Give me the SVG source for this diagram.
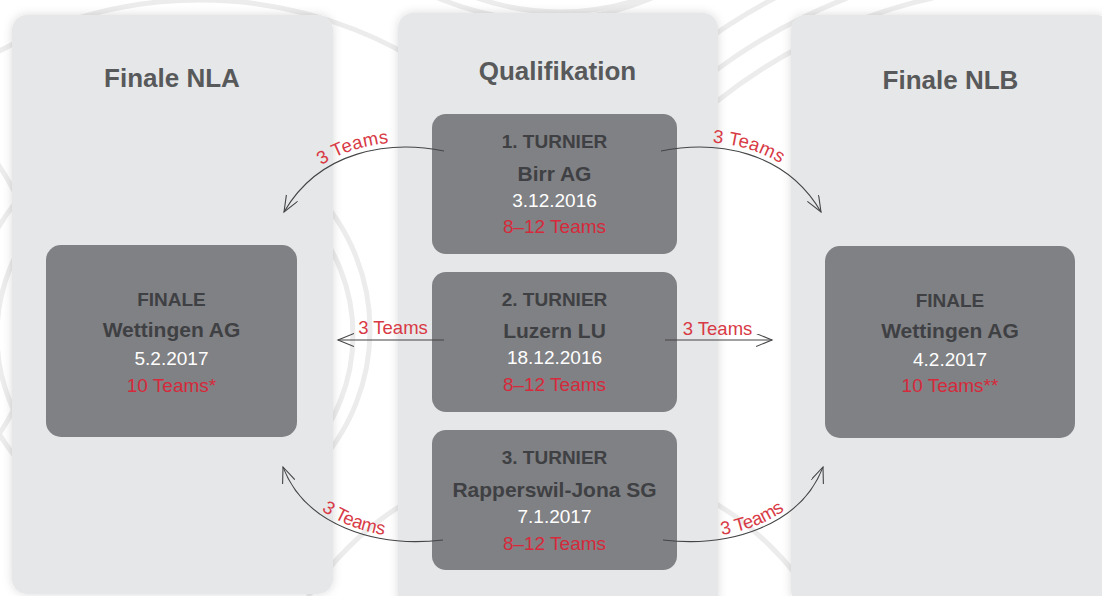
<svg xmlns="http://www.w3.org/2000/svg" xmlns:xlink="http://www.w3.org/1999/xlink" width="1102" height="596" viewBox="0 0 1102 596">
<style>
.bgarc{fill:none;stroke:#ececec;stroke-width:5}
.panel{fill:#e6e7e8;filter:url(#sh)}
.box{fill:#808184}
.ptitle{font-family:"Liberation Sans",Arial,sans-serif;font-weight:bold;font-size:26px;fill:#58595b;text-anchor:middle}
.hd{font-family:"Liberation Sans",Arial,sans-serif;font-weight:bold;font-size:19px;fill:#3f4043;text-anchor:middle}
.pl{font-family:"Liberation Sans",Arial,sans-serif;font-weight:bold;font-size:21px;fill:#3f4043;text-anchor:middle}
.dt{font-family:"Liberation Sans",Arial,sans-serif;font-size:19px;fill:#ffffff;text-anchor:middle}
.tm{font-family:"Liberation Sans",Arial,sans-serif;font-size:19px;fill:#d6293b;text-anchor:middle}
.lbl{font-family:"Liberation Sans",Arial,sans-serif;font-size:18.5px;fill:#d83a45}
.con{fill:none;stroke:#444547;stroke-width:1.1;marker-end:url(#ah)}
</style>
<defs>
<filter id="sh" x="-10%" y="-10%" width="120%" height="120%">
<feDropShadow dx="0" dy="0" stdDeviation="5" flood-color="#000" flood-opacity="0.14"/>
</filter>
<marker id="ah" markerUnits="userSpaceOnUse" markerWidth="18" markerHeight="14" refX="16" refY="6.5" orient="auto">
<path d="M0,0 L16,6.5 L0,13" fill="none" stroke="#444547" stroke-width="1.1"/>
</marker>
<path id="tp1" d="M284,212 C320,150 390,140 444,151"/>
<path id="tp2" d="M661,151 C715,140 785,150 821,212"/>
<path id="tp3" d="M283,467 C305,525 375,548 443,540"/>
<path id="tp4" d="M663,540 C731,548 801,525 823,467"/>
</defs>
<rect width="1102" height="596" fill="#ffffff"/>
<g id="background">
<circle class="bgarc" cx="560" cy="-240" r="252"/>
<circle class="bgarc" cx="545" cy="-250" r="270"/>
<circle class="bgarc" cx="1050" cy="520" r="535"/>
<circle class="bgarc" cx="1050" cy="520" r="560"/>
<circle class="bgarc" cx="1050" cy="520" r="590"/>
<circle class="bgarc" cx="175" cy="335" r="178"/>
<circle class="bgarc" cx="170" cy="330" r="200"/>
<circle class="bgarc" cx="560" cy="760" r="300"/>
<circle class="bgarc" cx="200" cy="420" r="420"/>
<circle class="bgarc" cx="-200" cy="300" r="240"/>
</g>
<g id="panel-nla">
<rect class="panel" x="12" y="15" width="321" height="579" rx="15"/>
<text class="ptitle" x="172" y="87">Finale NLA</text>
</g>
<g id="panel-qualifikation">
<rect class="panel" x="398" y="13" width="320" height="600" rx="15"/>
<text class="ptitle" x="557.5" y="80">Qualifikation</text>
</g>
<g id="panel-nlb">
<rect class="panel" x="791" y="15" width="320" height="590" rx="15"/>
<text class="ptitle" x="950.5" y="89">Finale NLB</text>
</g>
<g id="finale-nla">
<rect class="box" x="46" y="245" width="251" height="192" rx="15"/>
<text class="hd" x="171.5" y="306">FINALE</text>
<text class="pl" x="171.5" y="337">Wettingen AG</text>
<text class="dt" x="171.5" y="365">5.2.2017</text>
<text class="tm" x="171.5" y="392">10 Teams*</text>
</g>
<g id="turnier-1">
<rect class="box" x="432" y="114" width="245" height="140" rx="14"/>
<text class="hd" x="554.5" y="148">1. TURNIER</text>
<text class="pl" x="554.5" y="181">Birr AG</text>
<text class="dt" x="554.5" y="207">3.12.2016</text>
<text class="tm" x="554.5" y="233">8–12 Teams</text>
</g>
<g id="turnier-2">
<rect class="box" x="432" y="272" width="245" height="140" rx="14"/>
<text class="hd" x="554.5" y="306">2. TURNIER</text>
<text class="pl" x="554.5" y="338">Luzern LU</text>
<text class="dt" x="554.5" y="364">18.12.2016</text>
<text class="tm" x="554.5" y="391">8–12 Teams</text>
</g>
<g id="turnier-3">
<rect class="box" x="432" y="430" width="245" height="140" rx="14"/>
<text class="hd" x="554.5" y="464">3. TURNIER</text>
<text class="pl" x="554.5" y="497">Rapperswil-Jona SG</text>
<text class="dt" x="554.5" y="523">7.1.2017</text>
<text class="tm" x="554.5" y="550">8–12 Teams</text>
</g>
<g id="finale-nlb">
<rect class="box" x="825" y="246" width="250" height="192" rx="15"/>
<text class="hd" x="950" y="307">FINALE</text>
<text class="pl" x="950" y="338">Wettingen AG</text>
<text class="dt" x="950" y="366">4.2.2017</text>
<text class="tm" x="950" y="392">10 Teams**</text>
</g>
<g id="connectors">
<path class="con" d="M444,151 C390,140 320,150 284,212"/>
<path class="con" d="M661,151 C715,140 785,150 821,212"/>
<path class="con" d="M444,340 L338,340"/>
<path class="con" d="M665,340 L772,340"/>
<path class="con" d="M443,540 C375,548 305,525 283,467"/>
<path class="con" d="M663,540 C731,548 801,525 823,467"/>
<text class="lbl" dy="-5" text-anchor="middle"><textPath xlink:href="#tp1" href="#tp1" startOffset="51%">3 Teams</textPath></text>
<text class="lbl" dy="-5" text-anchor="middle"><textPath xlink:href="#tp2" href="#tp2" startOffset="47%">3 Teams</textPath></text>
<text class="lbl" x="393" y="334" text-anchor="middle">3 Teams</text>
<text class="lbl" x="717.5" y="335" text-anchor="middle">3 Teams</text>
<text class="lbl" dy="-4" text-anchor="middle"><textPath xlink:href="#tp3" href="#tp3" startOffset="50%">3 Teams</textPath></text>
<text class="lbl" dy="-4" text-anchor="middle"><textPath xlink:href="#tp4" href="#tp4" startOffset="50%">3 Teams</textPath></text>
</g>
</svg>
